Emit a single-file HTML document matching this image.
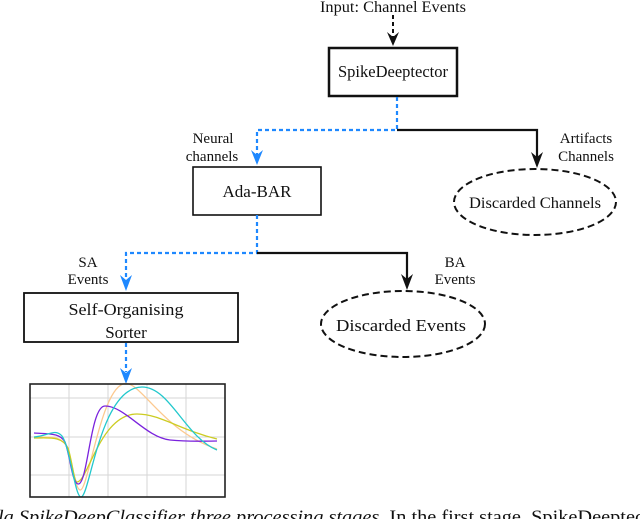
<!DOCTYPE html>
<html><head><meta charset="utf-8"><style>
html,body{margin:0;padding:0;background:#fff;}
svg{display:block;}
text{font-family:"Liberation Serif",serif;fill:#111;}
</style></head><body>
<svg width="640" height="519" viewBox="0 0 640 519" xmlns="http://www.w3.org/2000/svg">
<text x="393" y="12" font-size="16" text-anchor="middle" textLength="146" lengthAdjust="spacingAndGlyphs">Input: Channel Events</text>
<line x1="393" y1="15" x2="393" y2="38" stroke="#111" stroke-width="2" stroke-dasharray="4,3"/>
<path d="M387,32 L393,46 L399,32 L393,37 Z" fill="#111"/>
<rect x="329" y="48" width="128" height="48" fill="#fff" stroke="#111" stroke-width="2.5"/>
<text x="393" y="77" font-size="17" text-anchor="middle" textLength="110" lengthAdjust="spacingAndGlyphs">SpikeDeeptector</text>

<polyline points="397,97 397,130 257,130 257,158" fill="none" stroke="#1e88ff" stroke-width="2.2" stroke-dasharray="4,3"/>
<path d="M251,150 L257,165 L263,150 L257,155 Z" fill="#1e88ff"/>
<polyline points="397,130 537,130 537,160" fill="none" stroke="#111" stroke-width="2.2"/>
<path d="M531,152 L537,168 L543,152 L537,157 Z" fill="#111"/>
<text x="213" y="143" font-size="15" text-anchor="middle">Neural</text>
<text x="212" y="161" font-size="15" text-anchor="middle">channels</text>
<text x="586" y="143" font-size="15" text-anchor="middle">Artifacts</text>
<text x="586" y="161" font-size="15" text-anchor="middle">Channels</text>

<rect x="193" y="167" width="128" height="48" fill="#fff" stroke="#111" stroke-width="1.6"/>
<text x="257" y="197" font-size="17" text-anchor="middle">Ada-BAR</text>
<ellipse cx="535" cy="202" rx="81" ry="33" fill="none" stroke="#111" stroke-width="2" stroke-dasharray="7,4"/>
<text x="535" y="208" font-size="16" text-anchor="middle" textLength="132" lengthAdjust="spacingAndGlyphs">Discarded Channels</text>

<polyline points="257,215 257,253 126,253 126,283" fill="none" stroke="#1e88ff" stroke-width="2.2" stroke-dasharray="4,3"/>
<path d="M120,275 L126,291 L132,275 L126,280 Z" fill="#1e88ff"/>
<polyline points="257,253 407,253 407,282" fill="none" stroke="#111" stroke-width="2.2"/>
<path d="M401,274 L407,290 L413,274 L407,279 Z" fill="#111"/>
<text x="88" y="267" font-size="15" text-anchor="middle">SA</text>
<text x="88" y="284" font-size="15" text-anchor="middle">Events</text>
<text x="455" y="267" font-size="15" text-anchor="middle">BA</text>
<text x="455" y="284" font-size="15" text-anchor="middle">Events</text>

<rect x="24" y="293" width="214" height="49" fill="#fff" stroke="#111" stroke-width="1.8"/>
<text x="126" y="315" font-size="17" text-anchor="middle" textLength="115" lengthAdjust="spacingAndGlyphs">Self-Organising</text>
<text x="126" y="338" font-size="17" text-anchor="middle">Sorter</text>
<ellipse cx="403" cy="324" rx="82" ry="33" fill="none" stroke="#111" stroke-width="2" stroke-dasharray="7,4"/>
<text x="401" y="331" font-size="17" text-anchor="middle" textLength="130" lengthAdjust="spacingAndGlyphs">Discarded  Events</text>

<line x1="126" y1="343" x2="126" y2="372" stroke="#1e88ff" stroke-width="2.2" stroke-dasharray="4,3"/>
<path d="M120,368 L126,384 L132,368 L126,373 Z" fill="#1e88ff"/>

<rect x="30" y="384" width="195" height="113" fill="#fff"/>
<g stroke="#d6d6d6" stroke-width="1">
<line x1="69" y1="384" x2="69" y2="497"/><line x1="108" y1="384" x2="108" y2="497"/>
<line x1="147" y1="384" x2="147" y2="497"/><line x1="186" y1="384" x2="186" y2="497"/>
<line x1="30" y1="398" x2="225" y2="398"/><line x1="30" y1="437" x2="225" y2="437"/>
<line x1="30" y1="475" x2="225" y2="475"/>
</g>
<g fill="none" stroke-width="1.3">
<path d="M34,437 C50,437 60,436 66,445 C72,455 74,488 80,490 C88,492 100,392 123,384 C140,378 160,430 217,449" stroke="#fcc98f"/>
<path d="M34,438 C50,438 62,436 68,448 C72,460 74,482 77,482 C88,482 100,414 137,414 C160,414 180,430 217,439" stroke="#cccc22"/>
<path d="M34,433 C50,434 60,433 65,442 C70,455 72,483 78,484 C88,485 90,406 105,406 C125,406 145,437 170,440 C190,442 205,441 217,441" stroke="#7a22dd"/>
<path d="M34,437 C48,436 55,428 62,436 C70,447 75,497 81,497 C90,497 100,387 142,387 C170,387 185,437 217,450" stroke="#22c8cc"/>
</g>
<rect x="30" y="384" width="195" height="113" fill="none" stroke="#222" stroke-width="1.6"/>

<text x="-2" y="523" font-size="19" textLength="646" lengthAdjust="spacingAndGlyphs"><tspan font-style="italic">la SpikeDeepClassifier three processing stages.</tspan> In the first stage, SpikeDeeptec</text>
</svg>
</body></html>
